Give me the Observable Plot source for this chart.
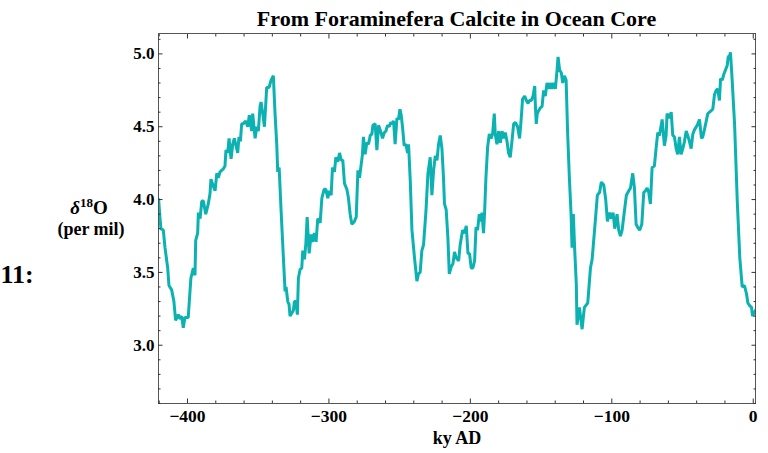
<!DOCTYPE html>
<html>
<head>
<meta charset="utf-8">
<script src="https://cdn.jsdelivr.net/npm/d3@7"></script>
<script src="https://cdn.jsdelivr.net/npm/@observablehq/plot@0.6"></script>
<style>
  html, body { margin: 0; padding: 0; background: #fff; }
  #chart svg { display: block; }
</style>
</head>
<body>
<div id="chart"></div>
<script>
// ---- data ----
const titleText = "From Foraminefera Calcite in Ocean Core";
const xLabelText = "ky AD";
const yLabelUnits = "(per mil)";
const cellLabel = "11:";

const ky = [
  -420.4, -419.5, -418.8, -417.1, -415.9, -414.0, -413.1, -411.2, -409.6, -408.4,
  -406.5, -405.3, -404.1, -403.0, -401.8, -399.5, -397.6, -395.9, -394.7, -394.2,
  -392.8, -392.3, -391.1, -389.9, -388.8, -387.1, -385.3, -384.1, -383.4, -381.7,
  -380.5, -379.3, -378.2, -377.0, -374.7, -373.5, -372.8, -371.6, -370.6, -369.2,
  -368.0, -366.9, -365.7, -364.5, -363.6, -362.6, -361.7, -360.5, -358.8, -357.4,
  -356.3, -354.6, -353.9, -352.2, -351.0, -349.9, -348.7, -348.0, -346.8, -345.6,
  -344.0, -342.3, -340.9, -339.3, -338.1, -336.9, -336.2, -335.2, -333.8, -332.2,
  -331.0, -330.3, -329.1, -328.2, -327.5, -326.3, -325.1, -324.4, -323.4, -322.3,
  -321.6, -320.4, -319.2, -318.5, -317.3, -316.3, -315.4, -314.0, -312.6, -311.7,
  -310.3, -309.1, -307.9, -306.2, -305.0, -303.4, -302.2, -300.8, -299.8, -298.4,
  -297.5, -296.1, -295.1, -293.7, -292.5, -291.3, -290.2, -289.0, -287.3, -286.2,
  -285.0, -283.8, -282.0, -280.7, -279.5, -278.4, -277.2, -276.3, -275.6, -274.4,
  -273.2, -272.0, -270.8, -269.6, -268.9, -267.3, -266.1, -264.9, -263.8, -262.1,
  -260.9, -259.7, -258.6, -257.4, -256.2, -255.1, -254.3, -253.2, -251.9, -250.8,
  -249.8, -248.9, -248.0, -246.8, -245.6, -244.4, -243.7, -242.5, -241.3, -239.5,
  -237.8, -236.7, -235.5, -234.3, -233.1, -231.4, -230.0, -228.4, -227.2, -226.0,
  -224.8, -223.6, -222.5, -221.3, -220.1, -219.0, -218.3, -217.1, -215.9, -214.9,
  -213.5, -212.3, -211.2, -210.0, -208.3, -207.2, -205.5, -204.1, -202.9, -201.7,
  -200.6, -199.4, -198.2, -197.0, -196.0, -194.9, -193.7, -192.5, -191.8, -190.7,
  -189.9, -189.0, -187.8, -186.6, -185.4, -184.3, -183.1, -182.4, -181.2, -180.0,
  -178.8, -177.6, -176.5, -175.3, -174.1, -173.0, -171.8, -170.6, -169.4, -168.2,
  -166.6, -165.2, -164.0, -163.1, -161.6, -160.4, -159.2, -158.3, -156.9, -155.7,
  -154.5, -154.1, -153.4, -152.7, -151.7, -150.5, -149.3, -148.2, -147.0, -145.8,
  -144.6, -143.5, -142.3, -141.1, -139.9, -138.7, -138.0, -136.9, -135.7, -134.7,
  -133.5, -132.3, -131.2, -130.0, -128.8, -128.1, -127.2, -126.3, -125.1, -124.6,
  -122.9, -121.0, -119.4, -117.0, -115.1, -113.9, -111.6, -110.2, -108.6, -107.4,
  -105.7, -104.3, -103.1, -101.6, -100.3, -99.1, -97.9, -96.3, -95.1, -93.9,
  -92.7, -91.1, -89.7, -88.0, -86.8, -85.2, -84.0, -82.8, -81.7, -80.3,
  -78.8, -77.4, -76.2, -75.0, -73.9, -72.7, -71.5, -69.9, -68.6, -67.5,
  -66.3, -64.4, -62.8, -61.6, -60.9, -59.2, -58.0, -56.9, -55.7, -54.5,
  -53.4, -52.2, -51.0, -49.8, -48.6, -47.4, -46.3, -45.1, -43.9, -42.7,
  -41.5, -39.6, -38.0, -36.6, -35.7, -34.5, -33.0, -32.1, -30.9, -29.7,
  -28.6, -27.4, -26.2, -25.1, -23.9, -23.1, -21.9, -20.8, -19.6, -18.4,
  -17.7, -16.6, -16.1, -14.9, -13.2, -11.3, -9.5, -7.8, -6.2, -4.7,
  -3.8, -2.4, -1.2, -0.5, 0.4, 1.6
];

const d18O = [
  4.00, 3.88, 3.80, 3.79, 3.67, 3.53, 3.41, 3.38, 3.30, 3.17,
  3.21, 3.18, 3.20, 3.12, 3.19, 3.19, 3.46, 3.53, 3.48, 3.72,
  3.77, 3.91, 3.87, 3.99, 3.99, 3.90, 3.97, 4.04, 4.14, 4.09,
  4.06, 4.18, 4.15, 4.19, 4.21, 4.23, 4.34, 4.32, 4.42, 4.28,
  4.38, 4.42, 4.37, 4.32, 4.43, 4.40, 4.52, 4.52, 4.54, 4.50,
  4.58, 4.47, 4.59, 4.42, 4.50, 4.47, 4.64, 4.67, 4.59, 4.50,
  4.77, 4.77, 4.82, 4.85, 4.59, 4.38, 4.19, 4.22, 3.92, 3.60,
  3.37, 3.40, 3.30, 3.28, 3.20, 3.22, 3.24, 3.30, 3.30, 3.21,
  3.46, 3.52, 3.53, 3.65, 3.59, 3.70, 3.88, 3.63, 3.76, 3.71,
  3.77, 3.71, 3.87, 3.84, 4.01, 4.07, 4.07, 4.01, 4.06, 4.03,
  4.22, 4.19, 4.29, 4.26, 4.32, 4.27, 4.27, 4.11, 4.07, 4.01,
  3.90, 3.83, 3.85, 3.88, 4.20, 4.15, 4.24, 4.31, 4.43, 4.31,
  4.39, 4.38, 4.44, 4.45, 4.51, 4.52, 4.34, 4.51, 4.48, 4.42,
  4.46, 4.47, 4.51, 4.50, 4.53, 4.52, 4.54, 4.38, 4.56, 4.55,
  4.62, 4.58, 4.50, 4.37, 4.38, 4.32, 4.38, 4.13, 3.79, 3.60,
  3.44, 3.49, 3.50, 3.65, 3.69, 3.92, 4.18, 4.29, 4.03, 4.20,
  4.30, 4.27, 4.38, 4.44, 4.35, 4.15, 3.97, 3.93, 3.74, 3.49,
  3.54, 3.56, 3.64, 3.60, 3.58, 3.69, 3.79, 3.77, 3.82, 3.63,
  3.63, 3.53, 3.53, 3.58, 3.81, 3.79, 3.90, 3.85, 3.91, 3.77,
  3.92, 4.15, 4.36, 4.45, 4.42, 4.45, 4.59, 4.45, 4.38, 4.47,
  4.39, 4.47, 4.42, 4.46, 4.40, 4.32, 4.29, 4.40, 4.52, 4.53,
  4.50, 4.42, 4.56, 4.69, 4.71, 4.68, 4.66, 4.68, 4.68, 4.71,
  4.78, 4.66, 4.52, 4.59, 4.61, 4.63, 4.64, 4.75, 4.71, 4.80,
  4.76, 4.80, 4.76, 4.80, 4.76, 4.89, 4.98, 4.89, 4.87, 4.80,
  4.85, 4.82, 4.45, 4.15, 3.90, 3.67, 3.90, 3.67, 3.42, 3.14,
  3.26, 3.11, 3.26, 3.29, 3.53, 3.59, 3.86, 4.03, 4.05, 4.12,
  4.10, 4.00, 3.85, 3.91, 3.87, 3.91, 3.80, 3.90, 3.79, 3.75,
  3.79, 3.92, 4.03, 4.06, 4.08, 4.18, 4.08, 3.83, 3.81, 3.79,
  3.83, 4.05, 4.06, 4.08, 4.05, 3.97, 4.22, 4.23, 4.36, 4.46,
  4.44, 4.55, 4.37, 4.44, 4.59, 4.56, 4.60, 4.44, 4.43, 4.35,
  4.31, 4.43, 4.31, 4.35, 4.40, 4.47, 4.44, 4.40, 4.35, 4.45,
  4.48, 4.51, 4.55, 4.42, 4.43, 4.48, 4.55, 4.59, 4.60, 4.61,
  4.62, 4.72, 4.75, 4.76, 4.68, 4.83, 4.82, 4.86, 4.89, 4.92,
  4.98, 4.99, 5.01, 4.82, 4.52, 3.99, 3.60, 3.40, 3.41, 3.35,
  3.29, 3.27, 3.26, 3.20, 3.22, 3.24
];

const xMajorTicks = [-400, -300, -200, -100, 0];
const xMinorTicks = [-420, -380, -360, -340, -320, -280, -260, -240, -220, -180, -160, -140, -120, -80, -60, -40, -20];
const yMajorTicks = [3.0, 3.5, 4.0, 4.5, 5.0];
const yMinorTicks = [2.6, 2.7, 2.8, 2.9, 3.1, 3.2, 3.3, 3.4, 3.6, 3.7, 3.8, 3.9, 4.1, 4.2, 4.3, 4.4, 4.6, 4.7, 4.8, 4.9, 5.1];

const xDomain = [-420.5, 1.6];
const yDomain = [2.6, 5.14];

// ---- chart ----
const rows = ky.map((k, i) => ({ky: k, v: d18O[i]}));
const fmtX = d => d < 0 ? "\u2212" + Math.abs(d) : String(d);
const fmtY = d3.format(".1f");
const serif = "'Liberation Serif', 'Times New Roman', serif";
const tickColor = "#333";
const tickOnly = (size) => ({tickSize: size, text: null, label: null, stroke: tickColor});

const plot = Plot.plot({
  width: 768,
  height: 453,
  marginLeft: 158,
  marginRight: 13,
  marginTop: 33,
  marginBottom: 50,
  x: {domain: xDomain},
  y: {domain: yDomain},
  style: {fontFamily: serif, fontWeight: "bold", fontSize: "17px", color: "#000", background: "#fff"},
  marks: [
    Plot.line(rows, {x: "ky", y: "v", stroke: "#0cb1b1", strokeWidth: 3, clip: true, strokeLinejoin: "miter"}),
    Plot.frame({stroke: "#555"}),
    // major ticks, inward, all four sides
    Plot.axisX(xMajorTicks, {anchor: "bottom", ...tickOnly(-4.5)}),
    Plot.axisX(xMajorTicks, {anchor: "top", ...tickOnly(-4.5)}),
    Plot.axisY(yMajorTicks, {anchor: "left", ...tickOnly(-4.5)}),
    Plot.axisY(yMajorTicks, {anchor: "right", ...tickOnly(-4.5)}),
    // minor ticks
    Plot.axisX(xMinorTicks, {anchor: "bottom", ...tickOnly(-2.5)}),
    Plot.axisX(xMinorTicks, {anchor: "top", ...tickOnly(-2.5)}),
    Plot.axisY(yMinorTicks, {anchor: "left", ...tickOnly(-2.5)}),
    Plot.axisY(yMinorTicks, {anchor: "right", ...tickOnly(-2.5)}),
    // labels
    Plot.axisX(xMajorTicks, {anchor: "bottom", tickSize: 0, tickPadding: 6, tickFormat: fmtX, label: null, fontSize: 17.5, fontWeight: "bold", fontFamily: serif, fill: "#000"}),
    Plot.axisY(yMajorTicks, {anchor: "left", tickSize: 0, tickPadding: 4, tickFormat: fmtY, label: null, fontSize: 17, fontWeight: "bold", fontFamily: serif, fill: "#000"})
  ]
});

const svg = d3.select(plot);
// title
svg.append("text")
  .attr("x", 456.5).attr("y", 26)
  .attr("text-anchor", "middle")
  .attr("font-family", serif).attr("font-weight", "bold").attr("font-size", 22)
  .attr("fill", "#000")
  .text(titleText);
// x label
svg.append("text")
  .attr("x", 457).attr("y", 444)
  .attr("text-anchor", "middle")
  .attr("font-family", serif).attr("font-weight", "bold").attr("font-size", 18)
  .attr("fill", "#000")
  .text(xLabelText);
// y label: delta 18 O
const yl = svg.append("text")
  .attr("x", 89).attr("y", 214)
  .attr("text-anchor", "middle")
  .attr("font-family", serif).attr("font-weight", "bold").attr("font-size", 19)
  .attr("fill", "#000");
yl.append("tspan").attr("font-style", "italic").text("\u03B4");
yl.append("tspan").attr("dy", -7).attr("font-size", 13).text("18");
yl.append("tspan").attr("dy", 7).text("O");
svg.append("text")
  .attr("x", 91).attr("y", 235)
  .attr("text-anchor", "middle")
  .attr("font-family", serif).attr("font-weight", "bold").attr("font-size", 18)
  .attr("fill", "#000")
  .text(yLabelUnits);
// cell label
svg.append("text")
  .attr("x", 17).attr("y", 283)
  .attr("font-family", serif).attr("font-weight", "bold").attr("font-size", 26)
  .attr("fill", "#000")
  .text(cellLabel);

document.getElementById("chart").appendChild(plot);
</script>
</body>
</html>
